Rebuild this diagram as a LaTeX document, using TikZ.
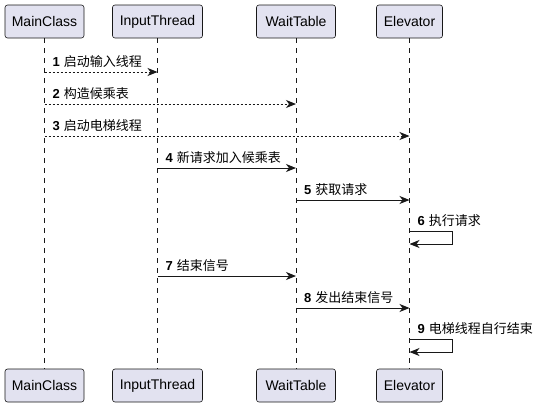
\documentclass[tikz,border=0pt]{standalone}
\usepackage{fontspec}
\setmainfont{Liberation Sans}
\newfontfamily\cjk{Noto Sans CJK SC}
\usetikzlibrary{arrows.meta}
\definecolor{pbox}{HTML}{E2E2F0}
\definecolor{pline}{HTML}{181818}
\tikzset{
  part/.style={draw=pline, fill=pbox, rounded corners=2.5pt, line width=0.6pt,
    minimum height=33pt, inner sep=0pt, font=\fontsize{14}{16}\selectfont, text=black},
  life/.style={draw=pline, line width=0.6pt, dash pattern=on 5pt off 5pt},
  msg/.style={draw=pline, line width=1pt, -{Stealth[length=10pt,width=8pt,inset=3pt]}},
  dmsg/.style={msg, dash pattern=on 2pt off 2pt},
  lbl/.style={anchor=base west, inner sep=0pt, xshift=8pt, yshift=6pt,
    font=\fontsize{13}{15}\selectfont, text=black},
}
\newcommand{\mnum}[1]{\textbf{#1}\hspace{4pt}}
\begin{document}
\begin{tikzpicture}[x=1pt,y=-1pt]
\useasboundingbox (0,0) rectangle (537,408);
% participants top
\node[part, minimum width=79pt] (mct) at (44.5,21.5) {MainClass};
\node[part, minimum width=90pt] (itt) at (157.5,21.5) {InputThread};
\node[part, minimum width=79pt] (wtt) at (296,21.5) {WaitTable};
\node[part, minimum width=66pt] (elt) at (409.5,21.5) {Elevator};
% participants bottom
\node[part, minimum width=79pt] (mcb) at (44.5,385.5) {MainClass};
\node[part, minimum width=90pt] (itb) at (157.5,385.5) {InputThread};
\node[part, minimum width=79pt] (wtb) at (296,385.5) {WaitTable};
\node[part, minimum width=66pt] (elb) at (409.5,385.5) {Elevator};
% lifelines
\draw[life] (mct.south) -- (mcb.north);
\draw[life] (itt.south) -- (itb.north);
\draw[life] (wtt.south) -- (wtb.north);
\draw[life] (elt.south) -- (elb.north);
% message anchor points
\coordinate (a1) at (mct.south |- 0,72);   \coordinate (b1) at (itt.south |- 0,72);
\coordinate (a2) at (mct.south |- 0,104);  \coordinate (b2) at (wtt.south |- 0,104);
\coordinate (a3) at (mct.south |- 0,136);  \coordinate (b3) at (elt.south |- 0,136);
\coordinate (a4) at (itt.south |- 0,168);  \coordinate (b4) at (wtt.south |- 0,168);
\coordinate (a5) at (wtt.south |- 0,200);  \coordinate (b5) at (elt.south |- 0,200);
\coordinate (a6) at (elt.south |- 0,231);  \coordinate (b6) at (elt.south |- 0,244);
\coordinate (a7) at (itt.south |- 0,276);  \coordinate (b7) at (wtt.south |- 0,276);
\coordinate (a8) at (wtt.south |- 0,308);  \coordinate (b8) at (elt.south |- 0,308);
\coordinate (a9) at (elt.south |- 0,339);  \coordinate (b9) at (elt.south |- 0,352);
% messages
\draw[dmsg] (a1) -- (b1);
\node[lbl] (l1) at (a1) {\mnum{1}{\cjk 启动输入线程}};
\draw[dmsg] (a2) -- (b2);
\node[lbl] (l2) at (a2) {\mnum{2}{\cjk 构造候乘表}};
\draw[dmsg] (a3) -- (b3);
\node[lbl] (l3) at (a3) {\mnum{3}{\cjk 启动电梯线程}};
\draw[msg] (a4) -- (b4);
\node[lbl] (l4) at (a4) {\mnum{4}{\cjk 新请求加入候乘表}};
\draw[msg] (a5) -- (b5);
\node[lbl] (l5) at (a5) {\mnum{5}{\cjk 获取请求}};
\draw[msg] (a6) -- ++(43,0) |- (b6);
\node[lbl] (l6) at (a6) {\mnum{6}{\cjk 执行请求}};
\draw[msg] (a7) -- (b7);
\node[lbl] (l7) at (a7) {\mnum{7}{\cjk 结束信号}};
\draw[msg] (a8) -- (b8);
\node[lbl] (l8) at (a8) {\mnum{8}{\cjk 发出结束信号}};
\draw[msg] (a9) -- ++(43,0) |- (b9);
\node[lbl] (l9) at (a9) {\mnum{9}{\cjk 电梯线程自行结束}};
\end{tikzpicture}
\end{document}
